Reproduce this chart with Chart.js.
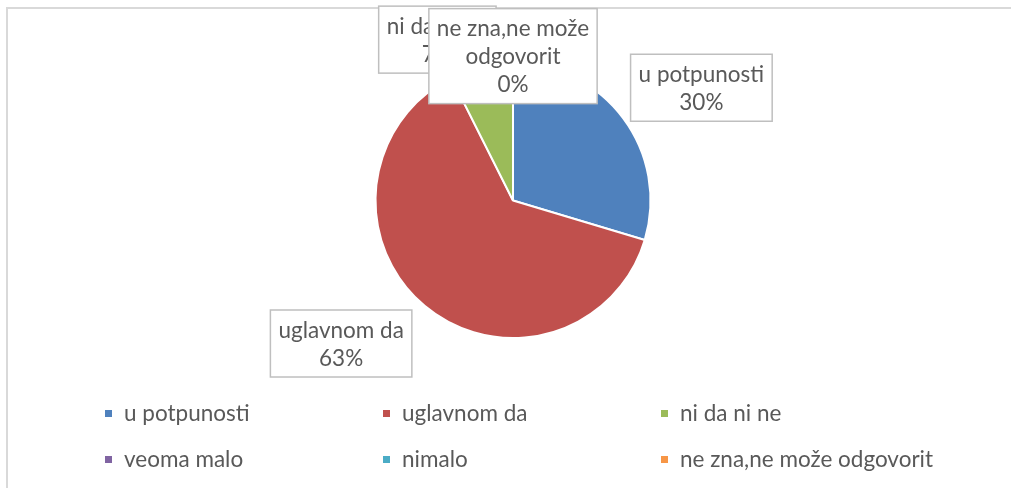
<!DOCTYPE html>
<html lang="sr">
<head>
  <meta charset="UTF-8">
  <title>Pie</title>
  <script src="https://cdn.jsdelivr.net/npm/chart.js"></script>
  <style>
    body { margin: 0; background: #fff; }
    .wrap { position: relative; width: 1011px; height: 488px; overflow: hidden; }
    /* okvir grafikona kao u Excelu */
    .frame {
      position: absolute; left: 6px; top: 7px;
      width: 1100px; height: 600px;
      border: 2px solid #d9d9d9;
    }
    canvas { position: absolute; left: 0; top: 0; }
  </style>
</head>
<body>
<div class="wrap">
  <div class="frame"></div>
  <canvas id="pie" width="1011" height="488"></canvas>
</div>
<script>
  const categories = ['u potpunosti', 'uglavnom da', 'ni da ni ne', 'veoma malo', 'nimalo', 'ne zna,ne može odgovorit'];
  const counts     = [24, 51, 6, 0, 0, 0];
  const colors     = ['#4F81BD', '#C0504D', '#9BBB59', '#8064A2', '#4BACC6', '#F79646'];

  // pomak oznaka u jedinicama poluprecnika (od centra)
  const labelOffset = [[1.37, -0.82], [-1.25, 1.04], [-0.55, -1.17], [0, -1.05], [0, -1.05], [0, -1.05]];

  const FONT = '22.5px Lato';
  const TEXT = '#595959';

  function wrapText(ctx, text, maxW) {
    const words = text.split(' ');
    const lines = [];
    let cur = '';
    words.forEach(w => {
      const t = cur ? cur + ' ' + w : w;
      if (ctx.measureText(t).width > maxW && cur) { lines.push(cur); cur = w; }
      else cur = t;
    });
    if (cur) lines.push(cur);
    return lines;
  }

  const boxLabels = {
    id: 'boxLabels',
    afterDatasetsDraw(chart) {
      const ctx = chart.ctx;
      const meta = chart.getDatasetMeta(0);
      const arc0 = meta.data[0];
      const cx = arc0.x, cy = arc0.y, r = arc0.outerRadius;
      const total = counts.reduce((a, b) => a + b, 0);
      ctx.save();
      ctx.font = FONT;
      ctx.textAlign = 'center';
      ctx.textBaseline = 'middle';
      categories.forEach((c, i) => {
        const pct = Math.round(counts[i] / total * 100) + '%';
        const lines = wrapText(ctx, c, 162).concat([pct]);
        const w = Math.max(...lines.map(l => ctx.measureText(l).width)) + 16;
        const lh = 28;
        const h = lines.length * lh + 11;
        const x = cx + labelOffset[i][0] * r;
        const y = cy + labelOffset[i][1] * r;
        ctx.fillStyle = '#fff';
        ctx.strokeStyle = '#bfbfbf';
        ctx.lineWidth = 1.5;
        ctx.fillRect(x - w / 2, y - h / 2, w, h);
        ctx.strokeRect(x - w / 2, y - h / 2, w, h);
        ctx.fillStyle = TEXT;
        lines.forEach((l, k) => {
          ctx.fillText(l, x, y - h / 2 + 5.5 + lh / 2 + k * lh + 1);
        });
      });
      ctx.restore();
    }
  };

  const gridLegend = {
    id: 'gridLegend',
    afterDraw(chart) {
      const ctx = chart.ctx;
      ctx.save();
      ctx.font = FONT;
      ctx.textBaseline = 'middle';
      categories.forEach((c, i) => {
        const col = i % 3, row = Math.floor(i / 3);
        const x = 105 + col * 278;
        const y = 414 + row * 46;
        ctx.fillStyle = colors[i];
        ctx.fillRect(x, y - 4, 7, 7);
        ctx.fillStyle = TEXT;
        ctx.fillText(c, x + 19, y);
      });
      ctx.restore();
    }
  };

  new Chart(document.getElementById('pie'), {
    type: 'pie',
    data: {
      labels: categories,
      datasets: [{
        data: counts,
        backgroundColor: colors,
        borderColor: '#ffffff',
        borderWidth: 2
      }]
    },
    options: {
      responsive: false,
      animation: false,
      layout: { padding: { top: 62, bottom: 149, left: 15, right: 0 } },
      plugins: {
        legend: { display: false },
        tooltip: { enabled: false }
      }
    },
    plugins: [boxLabels, gridLegend]
  });
</script>
</body>
</html>
